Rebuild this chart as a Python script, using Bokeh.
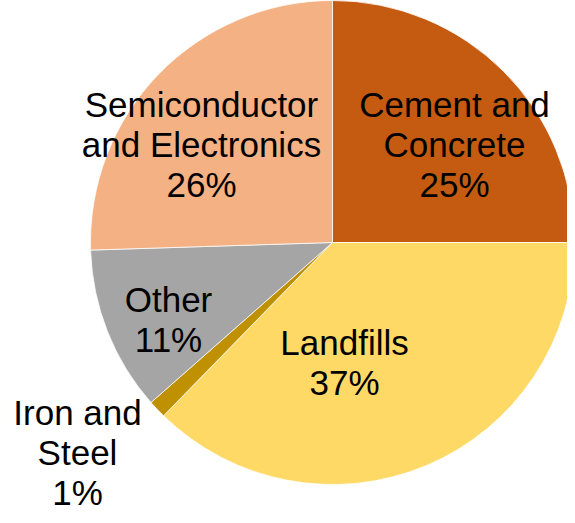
import math
from bokeh.plotting import figure
from bokeh.models import Range1d, ColumnDataSource
from bokeh.core.properties import value
from bokeh.embed import file_html
from bokeh.resources import INLINE

# ---- data ----
categories = ["Cement and\nConcrete", "Landfills", "Iron and\nSteel", "Other", "Semiconductor\nand Electronics"]
shares = [25.0, 37.3, 1.2, 11.0, 25.5]
pct_labels = ["25%", "37%", "1%", "11%", "26%"]
colors = ["#C55A11", "#FFD966", "#BF9000", "#A5A5A5", "#F4B183"]

# ---- layout ----
W, H = 567, 515
cx, cy, R = 332, 273, 242
# label block offsets from pie centre (pixels, y up)
label_offsets = [(122, 98), (12, -120), (-255, -210), (-164, -77), (-131, 98)]

total = sum(shares)
starts, ends = [], []
acc = 0.0
for s in shares:
    a0 = math.pi / 2 - 2 * math.pi * acc / total
    acc += s
    a1 = math.pi / 2 - 2 * math.pi * acc / total
    starts.append(a0)
    ends.append(a1)

src = ColumnDataSource(dict(start=starts, end=ends, color=colors,
                            x=[cx] * len(shares), y=[cy] * len(shares)))

p = figure(width=W, height=H, output_backend="svg", toolbar_location=None,
           x_range=Range1d(0, W), y_range=Range1d(0, H), min_border=0)
p.axis.visible = False
p.grid.visible = False
p.outline_line_color = None
p.background_fill_color = "white"
p.border_fill_color = "white"

p.wedge(x="x", y="y", radius=R, start_angle="start", end_angle="end",
        direction="clock", fill_color="color", line_color="white",
        line_width=0.75, source=src)

texts = [f"{c}\n{pc}" for c, pc in zip(categories, pct_labels)]
lx = [cx + o[0] for o in label_offsets]
ly = [cy + o[1] for o in label_offsets]
p.text(x=lx, y=ly, text=texts, text_font=value("Liberation Sans"),
       text_font_size="35px", text_align="center", text_baseline="middle",
       text_line_height=1.03, text_color="black")

open("out.html", "w").write(file_html(p, INLINE))
